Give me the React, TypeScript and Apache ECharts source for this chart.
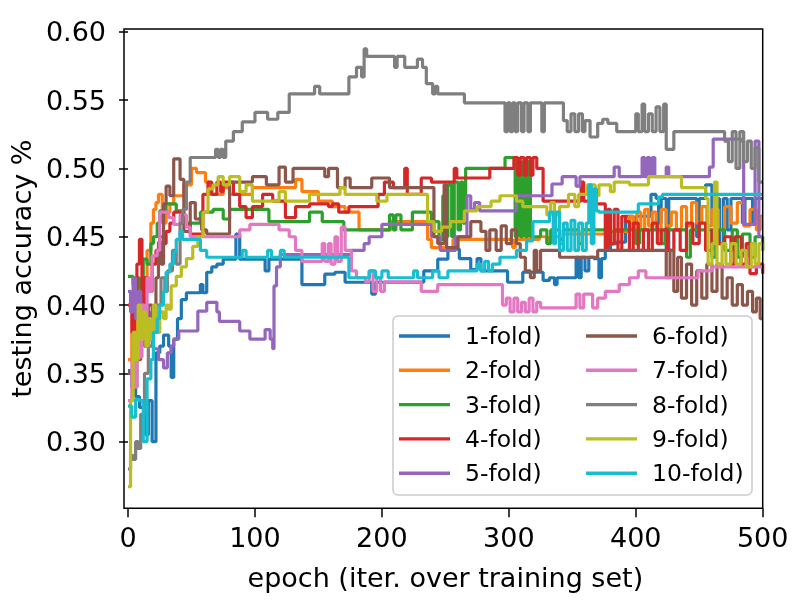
import React, { useEffect, useRef } from "react";
import * as echarts from "echarts";

const FONT = "DejaVu Sans";

const seriesNames = ["1-fold)", "2-fold)", "3-fold)", "4-fold)", "5-fold)", "6-fold)", "7-fold)", "8-fold)", "9-fold)", "10-fold)"];
const seriesColors = ["#1f77b4", "#ff7f0e", "#2ca02c", "#d62728", "#9467bd", "#8c564b", "#e377c2", "#7f7f7f", "#bcbd22", "#17becf"];
const xTicks = [0, 100, 200, 300, 400, 500];
const yTicks = [0.3, 0.35, 0.4, 0.45, 0.5, 0.55, 0.6];

// [epoch, testing accuracy] at each point where the value changes
const fold1 = [[0,0.352],[3,0.34],[6,0.333],[9,0.325],[12,0.33],[14,0.305],[16,0.33],[19,0.30],[22,0.365],[25,0.37],[28,0.378],[32,0.37],[34,0.347],[36,0.375],[39,0.39],[42,0.404],[46,0.409],[57,0.415],[59,0.409],[62,0.424],[66,0.428],[70,0.43],[75,0.4336],[85,0.452],[88,0.4336],[108,0.425],[111,0.4336],[137,0.415],[155,0.4226],[163,0.424],[171,0.4167],[192,0.408],[195,0.4167],[233,0.425],[244,0.4336],[252,0.441],[261,0.434],[270,0.426],[275,0.434],[278,0.425],[299,0.4167],[311,0.424],[327,0.418],[332,0.42],[336,0.415],[338,0.42],[353,0.435],[355,0.42],[357,0.435],[360,0.425],[363,0.435],[367,0.434],[371,0.42],[373,0.434],[376,0.44],[380,0.445],[385,0.446],[392,0.465],[398,0.455],[400,0.465],[412,0.481],[416,0.478],[418,0.46],[420,0.478],[424,0.44],[426,0.478],[440,0.478],[448,0.45],[450,0.478],[455,0.488],[460,0.459],[463,0.478],[466,0.445],[469,0.478],[472,0.455],[475,0.478],[484,0.46],[486,0.478],[492,0.46],[494,0.478],[500,0.478]];
const fold2 = [[0,0.36],[3,0.38],[6,0.41],[9,0.39],[12,0.42],[15,0.44],[18,0.46],[20,0.47],[22,0.475],[24,0.481],[27,0.46],[30,0.468],[33,0.474],[36,0.48],[44,0.488],[50,0.50],[54,0.497],[61,0.49],[64,0.481],[75,0.486],[80,0.481],[98,0.486],[132,0.492],[137,0.483],[150,0.476],[161,0.472],[171,0.468],[182,0.455],[207,0.461],[236,0.448],[239,0.442],[252,0.442],[256,0.448],[300,0.448],[303,0.442],[305,0.448],[324,0.45],[330,0.445],[332,0.45],[340,0.445],[343,0.452],[379,0.454],[395,0.465],[398,0.455],[401,0.468],[404,0.455],[407,0.47],[410,0.458],[413,0.468],[416,0.455],[420,0.47],[424,0.458],[428,0.468],[432,0.455],[436,0.472],[440,0.458],[444,0.475],[448,0.46],[452,0.472],[456,0.458],[460,0.47],[465,0.455],[470,0.472],[475,0.46],[480,0.475],[485,0.458],[490,0.47],[495,0.455],[498,0.465],[500,0.465]];
const fold3 = [[0,0.421],[4,0.415],[6,0.42],[9,0.41],[12,0.4336],[15,0.43],[18,0.445],[20,0.45],[23,0.46],[25,0.469],[30,0.474],[36,0.474],[38,0.469],[42,0.46],[57,0.468],[67,0.47],[75,0.463],[80,0.47],[111,0.461],[143,0.468],[153,0.461],[170,0.455],[206,0.466],[209,0.455],[211,0.466],[215,0.455],[224,0.468],[239,0.461],[245,0.448],[248,0.48],[250,0.45],[252,0.488],[255,0.45],[257,0.49],[260,0.455],[262,0.49],[264,0.46],[266,0.50],[297,0.508],[305,0.45],[307,0.505],[309,0.45],[311,0.505],[313,0.45],[315,0.505],[317,0.45],[325,0.455],[330,0.445],[333,0.455],[340,0.448],[343,0.455],[355,0.445],[358,0.455],[380,0.445],[383,0.455],[400,0.445],[403,0.455],[420,0.445],[423,0.455],[440,0.435],[443,0.455],[460,0.435],[463,0.455],[470,0.44],[476,0.455],[480,0.435],[484,0.452],[490,0.435],[494,0.45],[500,0.44]];
const fold4 = [[0,0.40],[3,0.38],[5,0.41],[7,0.43],[9,0.448],[11,0.40],[13,0.42],[16,0.41],[19,0.43],[22,0.44],[25,0.45],[28,0.445],[30,0.454],[33,0.46],[36,0.468],[44,0.459],[49,0.452],[59,0.481],[63,0.49],[66,0.481],[70,0.49],[73,0.483],[75,0.49],[83,0.481],[88,0.472],[93,0.464],[98,0.472],[106,0.481],[114,0.476],[124,0.464],[132,0.472],[143,0.474],[158,0.472],[161,0.474],[166,0.468],[174,0.472],[197,0.481],[202,0.49],[209,0.486],[218,0.50],[220,0.481],[231,0.493],[239,0.49],[257,0.50],[259,0.493],[285,0.50],[304,0.508],[307,0.495],[309,0.508],[312,0.495],[314,0.508],[317,0.495],[319,0.508],[322,0.50],[327,0.476],[357,0.49],[359,0.476],[366,0.474],[376,0.44],[378,0.47],[380,0.445],[383,0.47],[386,0.44],[389,0.465],[392,0.461],[395,0.44],[398,0.46],[402,0.44],[406,0.455],[410,0.44],[413,0.46],[417,0.445],[420,0.455],[425,0.44],[430,0.455],[435,0.44],[440,0.46],[445,0.445],[450,0.46],[455,0.44],[460,0.455],[465,0.445],[470,0.45],[475,0.43],[478,0.45],[483,0.43],[487,0.445],[490,0.423],[495,0.43],[500,0.423]];
const fold5 = [[0,0.41],[2,0.395],[4,0.42],[6,0.39],[8,0.41],[10,0.40],[12,0.38],[14,0.395],[17,0.375],[20,0.368],[24,0.36],[28,0.354],[31,0.365],[34,0.37],[36,0.375],[40,0.381],[55,0.3955],[62,0.402],[70,0.395],[72,0.388],[88,0.381],[96,0.375],[108,0.382],[112,0.375],[114,0.368],[115,0.414],[117,0.428],[120,0.437],[176,0.44],[186,0.445],[190,0.45],[200,0.459],[239,0.45],[246,0.44],[258,0.45],[267,0.48],[270,0.47],[273,0.475],[277,0.469],[306,0.48],[334,0.4886],[342,0.494],[353,0.487],[356,0.494],[383,0.501],[387,0.494],[405,0.508],[407,0.494],[409,0.508],[411,0.494],[413,0.508],[415,0.494],[424,0.501],[426,0.494],[458,0.501],[461,0.5215],[483,0.52],[485,0.459],[490,0.459],[494,0.52],[497,0.45],[500,0.45]];
const fold6 = [[0,0.35],[4,0.34],[7,0.36],[10,0.38],[13,0.37],[16,0.40],[19,0.39],[22,0.42],[24,0.446],[26,0.43],[28,0.474],[30,0.487],[33,0.48],[36,0.507],[41,0.492],[44,0.454],[49,0.475],[53,0.463],[58,0.455],[62,0.452],[80,0.49],[98,0.494],[109,0.488],[119,0.501],[124,0.49],[130,0.50],[155,0.494],[158,0.50],[165,0.486],[171,0.493],[175,0.486],[192,0.493],[206,0.486],[241,0.45],[244,0.445],[249,0.488],[251,0.442],[260,0.45],[270,0.461],[278,0.454],[282,0.44],[285,0.455],[290,0.44],[294,0.458],[298,0.445],[302,0.455],[306,0.445],[309,0.435],[313,0.425],[317,0.42],[320,0.44],[322,0.425],[325,0.44],[340,0.435],[365,0.435],[370,0.44],[424,0.42],[427,0.44],[430,0.41],[433,0.435],[436,0.405],[440,0.43],[444,0.40],[448,0.425],[452,0.405],[456,0.43],[460,0.41],[464,0.43],[468,0.405],[472,0.42],[476,0.40],[480,0.415],[484,0.40],[488,0.41],[492,0.395],[495,0.405],[498,0.39],[500,0.39]];
const fold7 = [[0,0.33],[3,0.36],[5,0.34],[7,0.38],[9,0.362],[11,0.40],[13,0.38],[15,0.42],[17,0.41],[19,0.436],[23,0.44],[25,0.468],[32,0.464],[36,0.459],[41,0.466],[46,0.457],[49,0.45],[88,0.455],[96,0.459],[119,0.455],[127,0.45],[132,0.44],[137,0.432],[153,0.445],[155,0.432],[158,0.445],[160,0.43],[163,0.45],[165,0.432],[168,0.457],[171,0.44],[176,0.425],[180,0.42],[187,0.417],[190,0.425],[193,0.41],[196,0.42],[199,0.41],[202,0.417],[231,0.41],[244,0.415],[295,0.40],[298,0.405],[301,0.395],[304,0.405],[307,0.395],[310,0.402],[313,0.395],[316,0.405],[319,0.395],[322,0.402],[325,0.398],[353,0.408],[356,0.398],[359,0.408],[366,0.398],[370,0.405],[376,0.41],[387,0.415],[395,0.42],[402,0.425],[408,0.42],[449,0.425],[460,0.428],[500,0.428]];
const fold8 = [[0,0.28],[2,0.29],[4,0.287],[6,0.30],[8,0.295],[10,0.32],[13,0.35],[16,0.37],[19,0.39],[22,0.40],[26,0.42],[29,0.41],[31,0.425],[35,0.44],[38,0.43],[41,0.46],[43,0.47],[46,0.49],[49,0.508],[69,0.514],[71,0.508],[73,0.514],[75,0.508],[77,0.52],[83,0.527],[90,0.534],[100,0.541],[110,0.536],[118,0.541],[127,0.5545],[147,0.56],[151,0.5545],[174,0.567],[180,0.574],[184,0.567],[186,0.5875],[188,0.582],[210,0.574],[212,0.582],[218,0.574],[228,0.58],[232,0.574],[235,0.562],[240,0.5545],[242,0.56],[244,0.5545],[265,0.548],[297,0.527],[299,0.548],[301,0.527],[303,0.548],[305,0.527],[307,0.548],[310,0.527],[312,0.548],[315,0.527],[317,0.548],[326,0.527],[328,0.548],[343,0.535],[346,0.527],[349,0.54],[352,0.527],[355,0.54],[358,0.527],[360,0.535],[364,0.523],[370,0.533],[374,0.536],[378,0.533],[385,0.527],[400,0.54],[402,0.527],[405,0.547],[407,0.527],[410,0.54],[413,0.527],[416,0.545],[419,0.527],[422,0.547],[424,0.514],[430,0.527],[470,0.52],[473,0.505],[476,0.527],[479,0.50],[482,0.527],[485,0.505],[488,0.52],[491,0.50],[494,0.515],[497,0.49],[500,0.49]];
const fold9 = [[0,0.267],[2,0.33],[4,0.38],[6,0.36],[8,0.40],[10,0.375],[12,0.395],[14,0.37],[16,0.39],[18,0.375],[20,0.40],[22,0.38],[25,0.395],[28,0.39],[30,0.40],[32,0.397],[34,0.414],[38,0.421],[42,0.428],[46,0.434],[51,0.443],[55,0.45],[59,0.468],[63,0.485],[67,0.488],[71,0.494],[75,0.488],[80,0.494],[88,0.483],[93,0.488],[98,0.476],[119,0.483],[124,0.476],[143,0.481],[167,0.486],[171,0.481],[196,0.476],[204,0.481],[236,0.461],[241,0.454],[247,0.457],[254,0.461],[265,0.469],[275,0.472],[286,0.476],[293,0.48],[306,0.476],[311,0.472],[330,0.466],[333,0.475],[336,0.466],[340,0.472],[347,0.481],[352,0.472],[355,0.481],[362,0.488],[368,0.48],[371,0.488],[380,0.483],[383,0.49],[395,0.488],[410,0.494],[436,0.486],[455,0.478],[457,0.43],[460,0.445],[462,0.49],[464,0.43],[468,0.445],[471,0.43],[475,0.445],[479,0.43],[483,0.44],[487,0.428],[491,0.445],[494,0.43],[497,0.445],[500,0.44]];
const fold10 = [[0,0.326],[3,0.318],[6,0.331],[9,0.33],[12,0.30],[15,0.346],[18,0.36],[20,0.38],[23,0.39],[25,0.40],[28,0.41],[30,0.424],[33,0.43],[36,0.439],[38,0.448],[41,0.454],[43,0.448],[57,0.44],[62,0.435],[90,0.44],[93,0.435],[110,0.44],[113,0.435],[120,0.44],[123,0.435],[174,0.42],[190,0.425],[195,0.42],[200,0.425],[205,0.42],[225,0.425],[228,0.42],[240,0.425],[245,0.42],[252,0.425],[275,0.43],[278,0.425],[281,0.432],[284,0.425],[287,0.43],[293,0.435],[306,0.44],[314,0.447],[319,0.461],[332,0.468],[335,0.445],[337,0.468],[340,0.44],[343,0.46],[346,0.44],[349,0.462],[352,0.44],[355,0.46],[358,0.44],[361,0.46],[363,0.488],[365,0.445],[367,0.485],[369,0.469],[371,0.468],[402,0.474],[418,0.479],[421,0.481],[500,0.481]];

const allFolds = [fold1, fold2, fold3, fold4, fold5, fold6, fold7, fold8, fold9, fold10];

export default function App() {
  const ref = useRef<HTMLDivElement>(null);
  useEffect(() => {
    if (!ref.current) return;
    const chart = echarts.init(ref.current, null, { renderer: "svg" });
    const legendBase = {
      orient: "vertical",
      top: 324,
      icon: "rect",
      itemWidth: 51,
      itemHeight: 3.4,
      itemGap: 10.3,
      padding: 0,
      selectedMode: false,
      textStyle: { fontSize: 23.5, fontFamily: FONT, color: "#000", lineHeight: 24, padding: [0, 0, 0, 10] },
      z: 6,
    };
    chart.setOption({
      animation: false,
      textStyle: { fontFamily: FONT },
      grid: { left: 124, right: 37.3, top: 29, bottom: 91.7, containLabel: false },
      xAxis: {
        type: "value",
        min: 0,
        max: 500,
        interval: 100,
        splitLine: { show: false },
        axisLine: { show: false },
        axisTick: { show: true, length: 9, lineStyle: { color: "#000", width: 1.5 } },
        axisLabel: { fontSize: 27, fontFamily: FONT, color: "#000", margin: 16, customValues: xTicks, alignMinLabel: "center", alignMaxLabel: "center" },
        name: "epoch (iter. over training set)",
        nameLocation: "middle",
        nameGap: 56,
        nameTextStyle: { fontSize: 27, fontFamily: FONT, color: "#000" },
      },
      yAxis: {
        type: "value",
        min: 0.25124,
        max: 0.60205,
        splitLine: { show: false },
        axisLine: { show: false },
        axisTick: { show: true, length: 9, lineStyle: { color: "#000", width: 1.5 }, customValues: yTicks },
        axisLabel: {
          fontSize: 27,
          fontFamily: FONT,
          color: "#000",
          margin: 22,
          customValues: yTicks,
          formatter: (v: number) => v.toFixed(2),
        },
        name: "testing accuracy %",
        nameLocation: "middle",
        nameGap: 93,
        nameTextStyle: { fontSize: 27, fontFamily: FONT, color: "#000" },
      },
      legend: [
        { ...legendBase, left: 399, data: seriesNames.slice(0, 5) },
        { ...legendBase, left: 586, data: seriesNames.slice(5) },
      ],
      graphic: [
        {
          type: "rect",
          shape: { x: 393, y: 316, width: 359, height: 179, r: 5 },
          style: { fill: "rgba(255,255,255,0.8)", stroke: "#cccccc", lineWidth: 1.5 },
          z: 5,
        },
        {
          type: "rect",
          shape: { x: 124, y: 29, width: 638.7, height: 479.3 },
          style: { fill: "none", stroke: "#000", lineWidth: 1.5 },
          z: 10,
        },
      ],
      series: allFolds.map((d, i) => ({
        name: seriesNames[i],
        type: "line",
        step: "end",
        data: d,
        symbol: "none",
        color: seriesColors[i],
        itemStyle: { color: seriesColors[i] },
        lineStyle: { width: 3.2, color: seriesColors[i] },
        z: 2,
      })),
    });
    return () => chart.dispose();
  }, []);
  return <div ref={ref} style={{ position: "fixed", left: 0, top: 0, width: 800, height: 600 }} />;
}
